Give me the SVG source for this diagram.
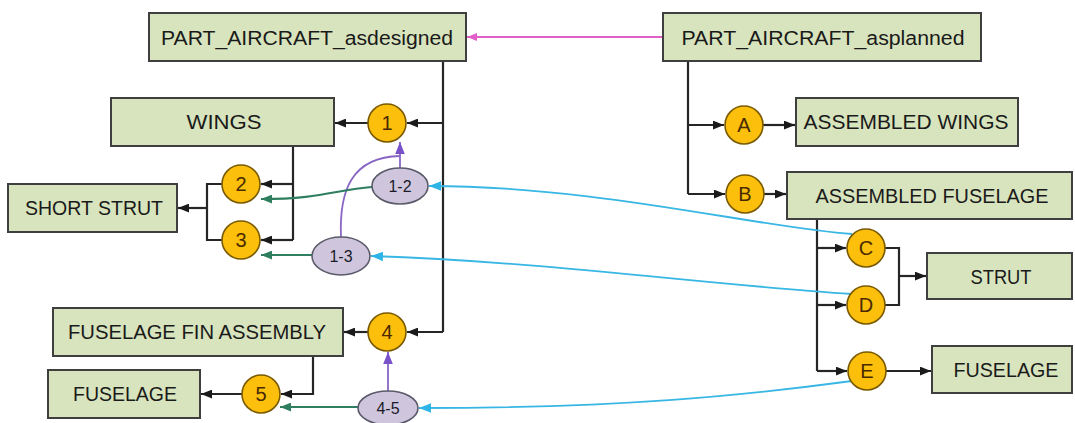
<svg xmlns="http://www.w3.org/2000/svg" width="1075" height="423" viewBox="0 0 1075 423">
<defs>
<style>
.box{fill:#d8e4bd;stroke:#3f3f3f;stroke-width:2}
.bt{font-family:"Liberation Sans",Arial,sans-serif;font-size:20px;fill:#1a1a1a;text-anchor:middle}
.cir{fill:#fbbf0c;stroke:#7a5a00;stroke-width:1.6}
.ct{font-family:"Liberation Sans",Arial,sans-serif;font-size:20px;fill:#4a2a00;text-anchor:middle}
.ell{fill:#cfc6dd;stroke:#5a5a6a;stroke-width:1.6}
.et{font-family:"Liberation Sans",Arial,sans-serif;font-size:16px;fill:#1a1a2a;text-anchor:middle}
.k{fill:none;stroke:#262626;stroke-width:2.2}
.pk{fill:none;stroke:#e060c8;stroke-width:1.8}
.pu{fill:none;stroke:#8a66c4;stroke-width:1.8}
.gr{fill:none;stroke:#2f7e60;stroke-width:2.2}
.cy{fill:none;stroke:#38b6e4;stroke-width:1.8}
</style>
<marker id="ak" viewBox="0 0 10 8" refX="10" refY="4" markerWidth="11" markerHeight="9" markerUnits="userSpaceOnUse" orient="auto"><path d="M0,0 L10,4 L0,8 z" fill="#1a1a1a"/></marker>
<marker id="apk" viewBox="0 0 10 8" refX="10" refY="4" markerWidth="10" markerHeight="8" markerUnits="userSpaceOnUse" orient="auto"><path d="M0,0 L10,4 L0,8 z" fill="#e060c8"/></marker>
<marker id="apu" viewBox="0 0 10 8" refX="10" refY="4" markerWidth="12" markerHeight="10" markerUnits="userSpaceOnUse" orient="auto"><path d="M0,0 L10,4 L0,8 z" fill="#7a52c8"/></marker>
<marker id="agr" viewBox="0 0 10 8" refX="10" refY="4" markerWidth="11" markerHeight="9" markerUnits="userSpaceOnUse" orient="auto"><path d="M0,0 L10,4 L0,8 z" fill="#2f7e60"/></marker>
<marker id="acy" viewBox="0 0 10 8" refX="10" refY="4" markerWidth="12" markerHeight="10" markerUnits="userSpaceOnUse" orient="auto"><path d="M0,0 L10,4 L0,8 z" fill="#2fb4e8"/></marker>
</defs>
<rect width="1075" height="423" fill="#ffffff"/>
<g id="connectors">
<path class="pk" d="M663 37 H467" marker-end="url(#apk)"/>
<path class="k" d="M443 61 V332"/>
<path class="k" d="M443 123 H407" marker-end="url(#ak)"/>
<path class="k" d="M443 332 H407" marker-end="url(#ak)"/>
<path class="k" d="M368 123 H335" marker-end="url(#ak)"/>
<path class="k" d="M293 146 V240"/>
<path class="k" d="M293 184 H261" marker-end="url(#ak)"/>
<path class="k" d="M293 240 H261" marker-end="url(#ak)"/>
<path class="k" d="M222 184 H207 V240 H222"/>
<path class="k" d="M207 208 H178" marker-end="url(#ak)"/>
<path class="k" d="M368 332 H344" marker-end="url(#ak)"/>
<path class="k" d="M313 356 V394 H281" marker-end="url(#ak)"/>
<path class="k" d="M242 394 H201" marker-end="url(#ak)"/>
<path class="k" d="M688 61 V194"/>
<path class="k" d="M688 125 H724" marker-end="url(#ak)"/>
<path class="k" d="M688 194 H725" marker-end="url(#ak)"/>
<path class="k" d="M763 125 H795" marker-end="url(#ak)"/>
<path class="k" d="M764 194 H786" marker-end="url(#ak)"/>
<path class="k" d="M817 219 V371"/>
<path class="k" d="M817 248 H846" marker-end="url(#ak)"/>
<path class="k" d="M817 305 H846" marker-end="url(#ak)"/>
<path class="k" d="M817 371 H847" marker-end="url(#ak)"/>
<path class="k" d="M885 248 H899 V305 H885"/>
<path class="k" d="M899 276 H926" marker-end="url(#ak)"/>
<path class="k" d="M886 371 H931" marker-end="url(#ak)"/>
<path class="pu" d="M400 168 V142" marker-end="url(#apu)"/>
<path class="pu" d="M341 237 C339 190 352 157 400 156"/>
<path class="pu" d="M388 391 V352" marker-end="url(#apu)"/>
<path class="gr" d="M372 187 C335 190 320 199 261 199" marker-end="url(#agr)"/>
<path class="gr" d="M312 255 H261" marker-end="url(#agr)"/>
<path class="gr" d="M358 407 H280" marker-end="url(#agr)"/>
<path class="cy" d="M852 234 C760 228 600 186 429 186" marker-end="url(#acy)"/>
<path class="cy" d="M852 294 C700 284 550 262 371 256" marker-end="url(#acy)"/>
<path class="cy" d="M852 381 C740 396 620 408 419 408" marker-end="url(#acy)"/>
</g>
<g id="n-asdesigned"><rect class="box" x="149" y="13" width="317" height="48"/><text class="bt" x="307" y="44.5" textLength="292" lengthAdjust="spacingAndGlyphs">PART_AIRCRAFT_asdesigned</text></g>
<g id="n-asplanned"><rect class="box" x="663" y="13" width="318" height="48"/><text class="bt" x="823" y="44.5" textLength="283" lengthAdjust="spacingAndGlyphs">PART_AIRCRAFT_asplanned</text></g>
<g id="n-wings"><rect class="box" x="111" y="98" width="223" height="48"/><text class="bt" x="224" y="129" textLength="75" lengthAdjust="spacingAndGlyphs">WINGS</text></g>
<g id="n-shortstrut"><rect class="box" x="8" y="184" width="169" height="48"/><text class="bt" x="94" y="215" textLength="138" lengthAdjust="spacingAndGlyphs">SHORT STRUT</text></g>
<g id="n-finassembly"><rect class="box" x="53" y="308" width="290" height="48"/><text class="bt" x="197" y="339" textLength="258" lengthAdjust="spacingAndGlyphs">FUSELAGE FIN ASSEMBLY</text></g>
<g id="n-fuselage-l"><rect class="box" x="48" y="370" width="152" height="48"/><text class="bt" x="125" y="401" textLength="104" lengthAdjust="spacingAndGlyphs">FUSELAGE</text></g>
<g id="n-asm-wings"><rect class="box" x="796" y="98" width="222" height="48"/><text class="bt" x="906" y="129" textLength="205" lengthAdjust="spacingAndGlyphs">ASSEMBLED WINGS</text></g>
<g id="n-asm-fuselage"><rect class="box" x="787" y="172" width="285" height="47"/><text class="bt" x="932" y="203" textLength="233" lengthAdjust="spacingAndGlyphs">ASSEMBLED FUSELAGE</text></g>
<g id="n-strut"><rect class="box" x="927" y="253" width="145" height="46"/><text class="bt" x="1001" y="283.5" textLength="61" lengthAdjust="spacingAndGlyphs">STRUT</text></g>
<g id="n-fuselage-r"><rect class="box" x="932" y="346" width="140" height="47"/><text class="bt" x="1006" y="377" textLength="105" lengthAdjust="spacingAndGlyphs">FUSELAGE</text></g>
<g id="c1"><circle class="cir" cx="387" cy="123" r="19"/><text class="ct" x="387" y="130">1</text></g>
<g id="c2"><circle class="cir" cx="241" cy="184" r="19"/><text class="ct" x="241" y="191">2</text></g>
<g id="c3"><circle class="cir" cx="241" cy="240" r="19"/><text class="ct" x="241" y="247">3</text></g>
<g id="c4"><circle class="cir" cx="387" cy="332" r="19"/><text class="ct" x="387" y="339">4</text></g>
<g id="c5"><circle class="cir" cx="261" cy="394" r="19"/><text class="ct" x="261" y="401">5</text></g>
<g id="cA"><circle class="cir" cx="744" cy="125" r="19"/><text class="ct" x="744" y="132">A</text></g>
<g id="cB"><circle class="cir" cx="745" cy="194" r="19"/><text class="ct" x="745" y="201">B</text></g>
<g id="cC"><circle class="cir" cx="866" cy="248" r="19"/><text class="ct" x="866" y="255">C</text></g>
<g id="cD"><circle class="cir" cx="866" cy="305" r="19"/><text class="ct" x="866" y="312">D</text></g>
<g id="cE"><circle class="cir" cx="867" cy="371" r="19"/><text class="ct" x="867" y="378">E</text></g>
<g id="e12"><ellipse class="ell" cx="400" cy="186" rx="28" ry="18"/><text class="et" x="400" y="191.5">1-2</text></g>
<g id="e13"><ellipse class="ell" cx="341" cy="256" rx="29" ry="19"/><text class="et" x="341" y="261.5">1-3</text></g>
<g id="e45"><ellipse class="ell" cx="388" cy="408" rx="30" ry="17"/><text class="et" x="388" y="413.5">4-5</text></g>
</svg>
